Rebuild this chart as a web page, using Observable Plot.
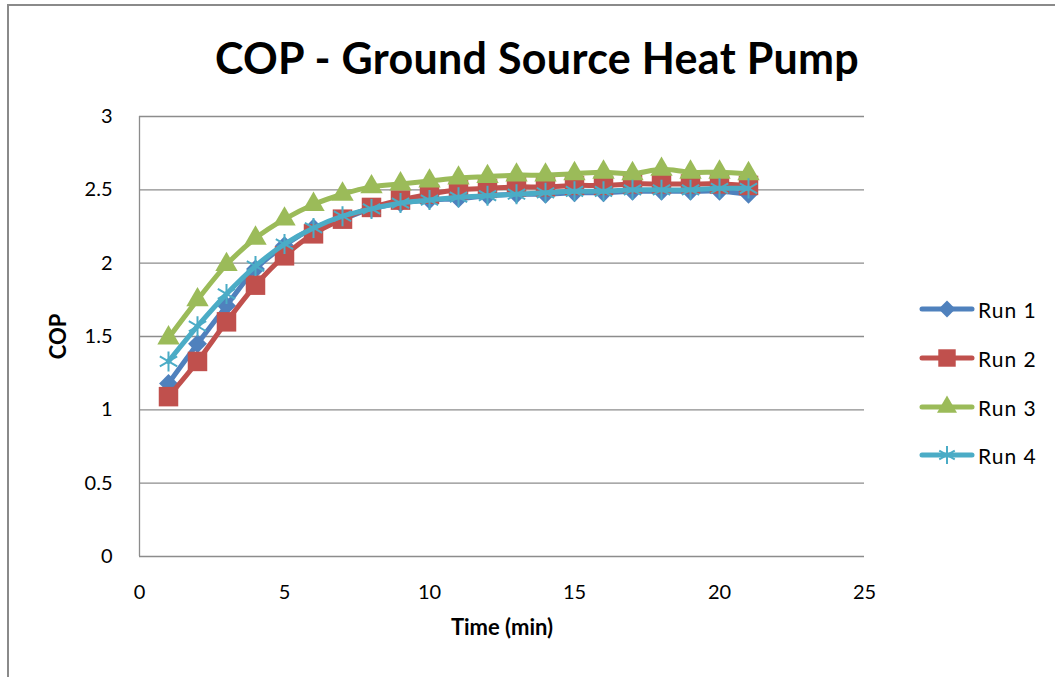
<!DOCTYPE html>
<html>
<head>
<meta charset="utf-8">
<script src="https://cdn.jsdelivr.net/npm/d3@7"></script>
<script src="https://cdn.jsdelivr.net/npm/@observablehq/plot@0.6"></script>
<style>
  html, body { margin: 0; padding: 0; background: #fff; overflow: hidden; }
  body { width: 1055px; height: 677px; position: relative; font-family: Lato, "Open Sans", sans-serif; }
  #frame { position: absolute; left: 7px; top: 4px; width: 1100px; height: 720px; border: 2px solid #8a8a8a; box-sizing: border-box; }
  #title { position: relative; height: 100px; width: 1055px; }
  #title span { position: absolute; left: 537px; top: 57px; transform: translate(-50%, -50%); font-weight: bold; font-size: 43px; letter-spacing: 0.3px; color: #000; white-space: nowrap; }
  #chart { position: relative; }
  #legend { position: absolute; left: 918px; top: 0; }
  .item { position: absolute; left: 0; width: 140px; height: 30px; }
  .item span { position: absolute; left: 60px; top: 50%; transform: translateY(-50%); font-size: 21px; letter-spacing: 1px; color: #000; white-space: nowrap; }
</style>
</head>
<body>
<div id="frame"></div>
<div id="title"><span>COP - Ground Source Heat Pump</span></div>
<div id="chart"></div>
<div id="legend"></div>
<script>
const times = [1, 2, 3, 4, 5, 6, 7, 8, 9, 10, 11, 12, 13, 14, 15, 16, 17, 18, 19, 20, 21];
const run1 = [1.18, 1.45, 1.71, 1.96, 2.12, 2.24, 2.30, 2.37, 2.41, 2.43, 2.44, 2.46, 2.47, 2.47, 2.48, 2.48, 2.49, 2.49, 2.49, 2.49, 2.47];
const run2 = [1.09, 1.33, 1.60, 1.85, 2.05, 2.20, 2.30, 2.38, 2.43, 2.47, 2.50, 2.51, 2.52, 2.52, 2.53, 2.53, 2.54, 2.54, 2.54, 2.54, 2.53];
const run3 = [1.49, 1.75, 1.99, 2.17, 2.30, 2.40, 2.47, 2.52, 2.54, 2.56, 2.58, 2.59, 2.60, 2.60, 2.61, 2.62, 2.61, 2.64, 2.62, 2.62, 2.61];
const run4 = [1.33, 1.57, 1.79, 1.98, 2.13, 2.24, 2.32, 2.37, 2.41, 2.43, 2.45, 2.46, 2.47, 2.48, 2.49, 2.49, 2.50, 2.50, 2.50, 2.51, 2.51];
const seriesNames = ["Run 1", "Run 2", "Run 3", "Run 4"];
const seriesValues = [run1, run2, run3, run4];
const colors = ["#4F81BD", "#C0504D", "#9BBB59", "#4BACC6"];
const xTicks = [0, 5, 10, 15, 20, 25];
const yTicks = [0, 0.5, 1, 1.5, 2, 2.5, 3];
const xLabel = "Time (min)";
const yLabel = "COP";

const symbols = ["diamond2", "square", "triangle", "asterisk"];
const symbolR = [8.5, 11, 8.3, 9.5];

const data = seriesNames.flatMap((name, i) => times.map((t, j) => ({series: name, time: t, cop: seriesValues[i][j]})));

const marks = [
  Plot.gridY(yTicks.filter(d => d > 0), {stroke: "#8c8c8c", strokeOpacity: 1, strokeWidth: 1.3}),
  Plot.ruleX([0], {stroke: "#8c8c8c", strokeWidth: 1.3}),
  Plot.ruleY([0], {stroke: "#8c8c8c", strokeWidth: 1.3}),
  Plot.axisX({ticks: xTicks, tickSize: 0, tickPadding: 28, fontSize: 20, label: null, tickFormat: d => String(d)}),
  Plot.axisY({ticks: yTicks, tickSize: 0, tickPadding: 27, fontSize: 20, label: null, tickFormat: d => String(d)}),
  Plot.text([xLabel], {frameAnchor: "bottom", dy: 78, fontWeight: "bold", fontSize: 22, fill: "#000", style: "letter-spacing:1px"}),
  Plot.text([yLabel], {frameAnchor: "left", dx: -81, rotate: -90, textAnchor: "middle", fontWeight: "bold", fontSize: 22, fill: "#000", style: "letter-spacing:1px"})
];
seriesNames.forEach((name, i) => {
  const d = data.filter(r => r.series === name);
  marks.push(Plot.line(d, {x: "time", y: "cop", stroke: colors[i], strokeWidth: 5, curve: "catmull-rom", strokeLinecap: "round"}));
  if (symbols[i] === "asterisk") {
    marks.push(Plot.dot(d, {x: "time", y: "cop", symbol: "asterisk", r: symbolR[i], stroke: colors[i], strokeWidth: 2, fill: "none"}));
  } else {
    marks.push(Plot.dot(d, {x: "time", y: "cop", symbol: symbols[i], r: symbolR[i], fill: colors[i], stroke: "none"}));
  }
});

const chart = Plot.plot({
  width: 1055,
  height: 577,
  marginLeft: 139,
  marginRight: 191,
  marginTop: 16,
  marginBottom: 121,
  style: {fontFamily: "Lato, 'Open Sans', sans-serif", color: "#000", background: "transparent"},
  x: {domain: [0, 25]},
  y: {domain: [0, 3]},
  marks
});
document.getElementById("chart").appendChild(chart);

// Legend
const legend = document.getElementById("legend");
const legendY = [309, 358, 407, 455];
const symMap = {diamond2: d3.symbolDiamond2, square: d3.symbolSquare, triangle: d3.symbolTriangle, asterisk: d3.symbolAsterisk};
seriesNames.forEach((name, i) => {
  const item = document.createElement("div");
  item.className = "item";
  item.style.top = (legendY[i] - 15) + "px";
  const svg = d3.create("svg").attr("width", 60).attr("height", 30).style("position", "absolute").style("left", "0px").style("top", "0px");
  svg.append("line").attr("x1", 4).attr("x2", 54).attr("y1", 15).attr("y2", 15)
    .attr("stroke", colors[i]).attr("stroke-width", 5).attr("stroke-linecap", "round");
  const p = d3.symbol(symMap[symbols[i]], Math.PI * symbolR[i] * symbolR[i] * 0.8)();
  const sym = svg.append("path").attr("d", p).attr("transform", "translate(29,15)");
  if (symbols[i] === "asterisk") sym.attr("fill", "none").attr("stroke", colors[i]).attr("stroke-width", 2);
  else sym.attr("fill", colors[i]);
  item.appendChild(svg.node());
  const label = document.createElement("span");
  label.textContent = name;
  item.appendChild(label);
  legend.appendChild(item);
});
</script>
</body>
</html>
